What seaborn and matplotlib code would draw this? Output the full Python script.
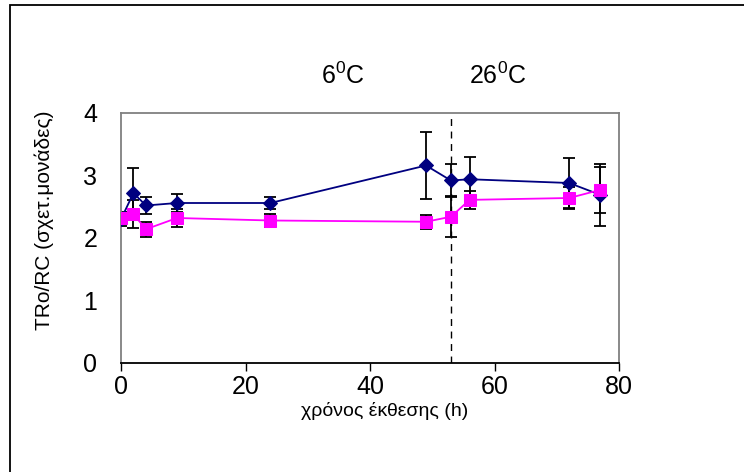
import matplotlib
matplotlib.use("Agg")
import matplotlib.pyplot as plt
import seaborn as sns
import pandas as pd
from matplotlib.patches import Rectangle

# ---- data ----
hours = [0, 2, 4, 9, 24, 49, 53, 56, 72, 77]
series_blue = [2.30, 2.72, 2.52, 2.56, 2.56, 3.16, 2.92, 2.94, 2.88, 2.69]
err_blue = [0.10, 0.40, 0.14, 0.14, 0.10, 0.54, 0.26, 0.36, 0.40, 0.50]
series_pink = [2.32, 2.38, 2.14, 2.32, 2.28, 2.26, 2.34, 2.61, 2.64, 2.77]
err_pink = [0.10, 0.22, 0.12, 0.14, 0.11, 0.11, 0.33, 0.14, 0.18, 0.37]
x_ticks = [0, 20, 40, 60, 80]
y_ticks = [0, 1, 2, 3, 4]
switch_time = 53
xlabel = "χρόνος έκθεσης (h)"
ylabel = "TRo/RC (σχετ.μονάδες)"

sns.set_style("white")
plt.rcParams["font.family"] = ["Liberation Sans", "DejaVu Sans"]
plt.rcParams["mathtext.fontset"] = "custom"
plt.rcParams["mathtext.rm"] = "Liberation Sans"
plt.rcParams["mathtext.it"] = "Liberation Sans"
for key in ["text.color", "axes.labelcolor", "xtick.color", "ytick.color"]:
    plt.rcParams[key] = "black"

fig = plt.figure(figsize=(7.44, 4.72), dpi=100)
ax = fig.add_axes([121 / 744, 1 - 363 / 472, (619 - 121) / 744, (363 - 113) / 472])

df_b = pd.DataFrame({"t": hours, "v": series_blue})
df_p = pd.DataFrame({"t": hours, "v": series_pink})

ax.errorbar(hours, series_blue, yerr=err_blue, fmt="none", ecolor="black",
            elinewidth=1.3, capsize=4.5, capthick=1.3, zorder=2)
ax.errorbar(hours, series_pink, yerr=err_pink, fmt="none", ecolor="black",
            elinewidth=1.3, capsize=4.5, capthick=1.3, zorder=2)

sns.lineplot(data=df_b, x="t", y="v", ax=ax, color="#000080", marker="D",
             markersize=7, markeredgecolor="#000080", linewidth=1.3, zorder=3)
sns.lineplot(data=df_p, x="t", y="v", ax=ax, color="#FF00FF", marker="s",
             markersize=9, markeredgecolor="#FF00FF", linewidth=1.3, zorder=4)

ax.axvline(switch_time, color="black", linestyle=(0, (5, 4)), linewidth=1.0, zorder=1)

ax.set_xlim(0, 80)
ax.set_ylim(0, 4)
ax.set_xticks(x_ticks)
ax.set_yticks(y_ticks)
ax.tick_params(axis="x", direction="out", length=6, width=1, color="black",
               labelsize=18, pad=3, bottom=True)
ax.tick_params(axis="y", length=0, labelsize=18, pad=17)

for side in ["left", "top", "right"]:
    ax.spines[side].set_color("#808080")
    ax.spines[side].set_linewidth(1.3)
ax.spines["bottom"].set_color("black")
ax.spines["bottom"].set_linewidth(1.3)

ax.set_xlabel(xlabel, fontsize=14)
ax.set_ylabel(ylabel, fontsize=15)
ax.xaxis.set_label_coords((385 - 121) / 498, -0.155)
ax.yaxis.set_label_coords(-0.135, 0.57)

ax.text(35.6, 4.6, r"6$^{0}$C", fontsize=18, ha="center", va="center")
ax.text(60.6, 4.6, r"26$^{0}$C", fontsize=18, ha="center", va="center")

fig.patches.append(Rectangle((10 / 744, -0.2), 1.2, 1.2 - 5 / 472 + 0.0,
                             transform=fig.transFigure, fill=False,
                             edgecolor="black", linewidth=1.3))

fig.savefig("out.png", dpi=100)
